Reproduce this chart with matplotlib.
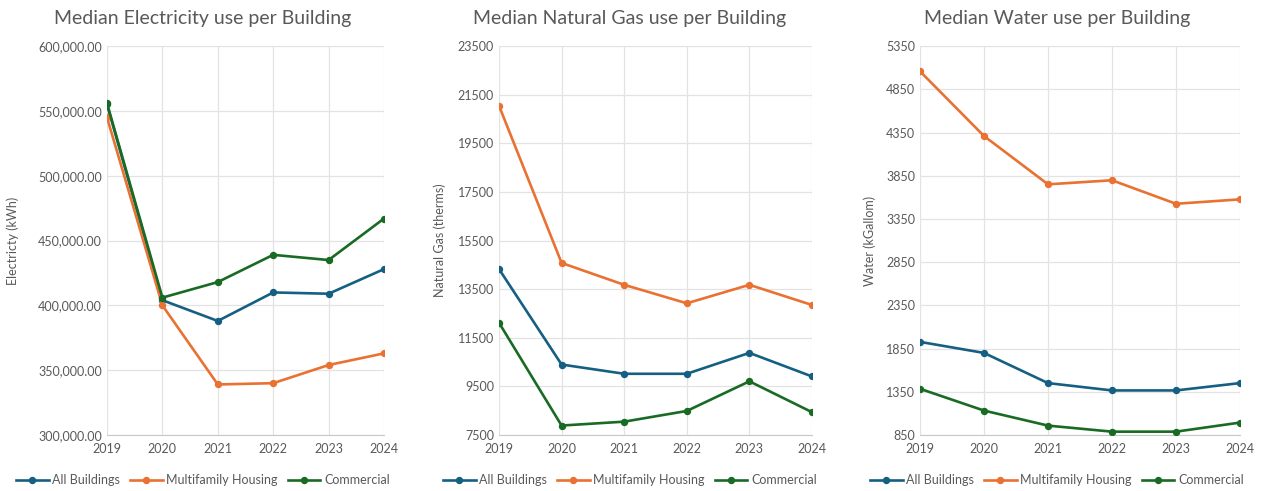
import matplotlib
matplotlib.use("Agg")
from matplotlib import pyplot as plt
from matplotlib.ticker import FuncFormatter

plt.rcParams['font.family'] = ['Lato', 'DejaVu Sans']

years = [2019, 2020, 2021, 2022, 2023, 2024]
series_names = ['All Buildings', 'Multifamily Housing', 'Commercial']
colors = ['#156082', '#E97132', '#196B24']

elec_all = [555000, 404000, 388000, 410000, 409000, 428000]
elec_multi = [545000, 400000, 339000, 340000, 354000, 363000]
elec_comm = [556000, 406000, 418000, 439000, 435000, 467000]

gas_all = [14330, 10400, 10020, 10020, 10880, 9910]
gas_multi = [21050, 14580, 13680, 12920, 13680, 12850]
gas_comm = [12120, 7890, 8050, 8490, 9710, 8440]

water_all = [1928, 1800, 1451, 1366, 1366, 1451]
water_multi = [5059, 4310, 3751, 3798, 3526, 3577]
water_comm = [1385, 1133, 959, 889, 889, 994]

panels = [
    dict(title='Median Electricity use per Building', ylabel='Electricty (kWh)',
         data=[elec_all, elec_multi, elec_comm], ylim=(300000, 600000), step=50000,
         fmt=lambda v, p: f'{v:,.2f}', rect=[107/1267, 0.114, 277/1267, 0.792],
         center=203/1267, ylab_x=13/1267),
    dict(title='Median Natural Gas use per Building', ylabel='Natural Gas (therms)',
         data=[gas_all, gas_multi, gas_comm], ylim=(7500, 23500), step=2000,
         fmt=lambda v, p: f'{v:.0f}', rect=[499/1267, 0.114, 313/1267, 0.792],
         center=630/1267, ylab_x=440/1267),
    dict(title='Median Water use per Building', ylabel='Water (kGallom)',
         data=[water_all, water_multi, water_comm], ylim=(850, 5350), step=500,
         fmt=lambda v, p: f'{v:.0f}', rect=[920/1267, 0.114, 320/1267, 0.792],
         center=1057/1267, ylab_x=870/1267),
]

fig = plt.figure(figsize=(12.67, 4.91), dpi=100, facecolor='white')
grey = '#595959'

for pn in panels:
    ax = fig.add_axes(pn['rect'])
    lines = []
    for name, vals, c in zip(series_names, pn['data'], colors):
        ln, = ax.plot(years, vals, color=c, linewidth=1.9, marker='o', markersize=4.3,
                      label=name, zorder=3)
        lines.append(ln)
    lo, hi = pn['ylim']
    ax.set_ylim(lo, hi)
    ax.set_xlim(years[0], years[-1])
    ax.set_yticks(range(lo, hi + 1, pn['step']))
    ax.set_xticks(years)
    ax.yaxis.set_major_formatter(FuncFormatter(pn['fmt']))
    ax.grid(True, color='#E3E3E3', linewidth=0.9)
    ax.set_axisbelow(True)
    for s in ['top', 'right', 'left']:
        ax.spines[s].set_visible(False)
    ax.spines['bottom'].set_color('#C8C8C8')
    ax.tick_params(axis='both', length=0, colors=grey, labelsize=9)
    ax.tick_params(axis='x', pad=6)
    fig.text(pn['ylab_x'], 0.114 + 0.396, pn['ylabel'], rotation=90, color=grey,
             fontsize=9, ha='center', va='center')
    fig.text(pn['center'], 0.963, pn['title'], color=grey, fontsize=14,
             ha='center', va='center')
    fig.legend(handles=lines, loc='center', bbox_to_anchor=(pn['center'], 0.022),
               ncol=3, frameon=False, fontsize=9, labelcolor=grey, handlelength=2.6,
               handletextpad=0.3, columnspacing=0.8)

plt.savefig('out.png', dpi=100, facecolor='white')
